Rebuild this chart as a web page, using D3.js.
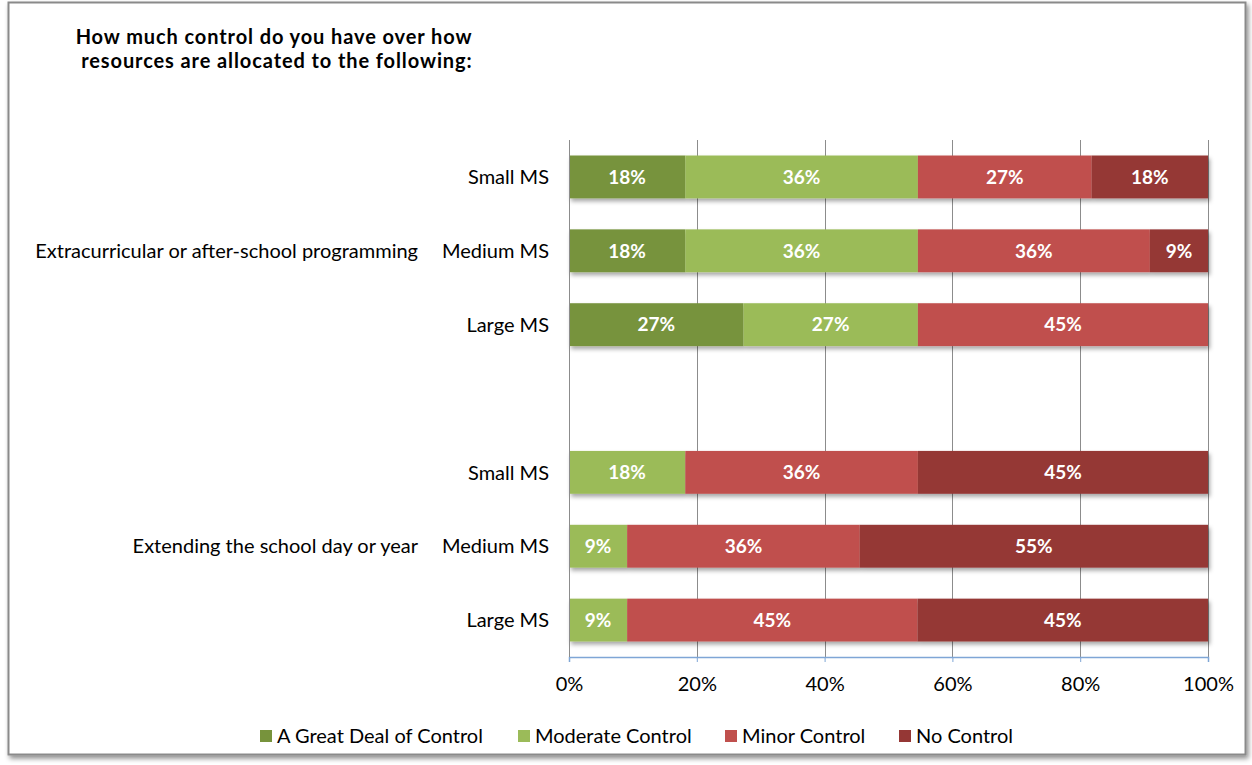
<!DOCTYPE html>
<html>
<head>
<meta charset="utf-8">
<script src="https://cdn.jsdelivr.net/npm/d3@7"></script>
<style>
  html, body { margin: 0; padding: 0; background: #fff; }
  svg { display: block; }
  text { font-family: Lato, "Open Sans", sans-serif; }
</style>
</head>
<body>
<svg id="chart" width="1252" height="765"></svg>
<script>
// ---- Data ----
const groups = ["Extracurricular or after-school programming", "Extending the school day or year"];
const sizes = ["Small MS", "Medium MS", "Large MS"];
const seriesNames = ["A Great Deal of Control", "Moderate Control", "Minor Control", "No Control"];
const seriesColors = ["#77933C", "#9BBB59", "#C0504D", "#953735"];
// percentages per row (group, size), series order as seriesNames
const greatDeal = [18.2, 18.2, 27.3, 0, 0, 0];
const moderate  = [36.4, 36.4, 27.3, 18.2, 9.1, 9.1];
const minor     = [27.2, 36.3, 45.4, 36.4, 36.4, 45.45];
const noControl = [18.2, 9.1, 0, 45.4, 54.5, 45.45];
const xTicks = [0, 20, 40, 60, 80, 100];
const title = ["How much control do you have over how", " resources are allocated to the following:"];

(function () {
const rowKeys = [];
const rows = [];
groups.forEach((g, gi) => {
  sizes.forEach((s, si) => {
    const i = gi * 3 + si;
    const key = gi + "|" + s;
    rowKeys.push(key);
    rows.push({ key, group: g, size: s, values: [greatDeal[i], moderate[i], minor[i], noControl[i]] });
  });
  if (gi === 0) rowKeys.push("gap");
});

const svg = d3.select("#chart");
const FONT = 20;

const defs = svg.append("defs");
const fs = defs.append("filter").attr("id", "frameShadow").attr("x", "-5%").attr("y", "-5%").attr("width", "110%").attr("height", "110%");
fs.append("feDropShadow").attr("dx", 2).attr("dy", 3).attr("stdDeviation", 2.5).attr("flood-color", "#000").attr("flood-opacity", 0.45);
const bs = defs.append("filter").attr("id", "barShadow").attr("x", "-5%").attr("y", "-20%").attr("width", "110%").attr("height", "160%");
bs.append("feDropShadow").attr("dx", 2).attr("dy", 3).attr("stdDeviation", 2).attr("flood-color", "#000").attr("flood-opacity", 0.35);

svg.append("rect").attr("x", 8.5).attr("y", 2.5).attr("width", 1237).attr("height", 752)
  .attr("fill", "#fff").attr("stroke", "#8a8a8a").attr("stroke-width", 2)
  .attr("filter", "url(#frameShadow)");

const pLeft = 569, pRight = 1208, pTop = 140, pBottom = 657;
const x = d3.scaleLinear().domain([0, 100]).range([pLeft, pRight]);
const y = d3.scaleBand().domain(rowKeys).range([pTop, pBottom]).paddingInner(0.42).paddingOuter(0.21);

svg.append("g").selectAll("line").data(xTicks).join("line")
  .attr("x1", d => Math.round(x(d)) + 0.5).attr("x2", d => Math.round(x(d)) + 0.5)
  .attr("y1", pTop).attr("y2", pBottom)
  .attr("stroke", "#8c8c8c").attr("stroke-width", 1);

const stackRows = rows.map(r => {
  let acc = 0;
  return r.values.map((v, i) => { const seg = { row: r, i, v, x0: acc, x1: acc + v }; acc += v; return seg; });
});
const barG = svg.append("g");
stackRows.forEach(segs => {
  const g = barG.append("g").attr("filter", "url(#barShadow)");
  g.selectAll("rect").data(segs.filter(s => s.v > 0)).join("rect")
    .attr("x", d => x(d.x0)).attr("width", d => x(d.x1) - x(d.x0))
    .attr("y", d => y(d.row.key)).attr("height", y.bandwidth())
    .attr("fill", d => seriesColors[d.i]);
});
stackRows.forEach(segs => {
  barG.append("g").selectAll("text").data(segs.filter(s => s.v > 0)).join("text")
    .attr("x", d => (x(d.x0) + x(d.x1)) / 2)
    .attr("y", d => y(d.row.key) + y.bandwidth() / 2)
    .attr("dy", "0.36em").attr("text-anchor", "middle")
    .attr("fill", "#fff").attr("font-weight", "bold").attr("font-size", 19)
    .text(d => Math.round(d.v) + "%");
});

const xAxis = d3.axisBottom(x).tickValues(xTicks).tickSize(5).tickFormat(d => d + "%");
const ax = svg.append("g").attr("transform", `translate(0,${pBottom})`).call(xAxis);
ax.select(".domain").attr("stroke", "#7fa6d6").attr("stroke-width", 1.5);
ax.selectAll(".tick line").attr("stroke", "#7fa6d6");
ax.selectAll(".tick text").attr("font-size", FONT).attr("fill", "#000").attr("dy", "0.71em").attr("y", 20)
  .style("font-family", "Lato, sans-serif");

svg.append("line").attr("x1", pLeft + 0.5).attr("x2", pLeft + 0.5).attr("y1", pTop).attr("y2", pBottom)
  .attr("stroke", "#8c8c8c");

svg.append("g").selectAll("text").data(rows).join("text")
  .attr("x", 549).attr("y", d => y(d.key) + y.bandwidth() / 2).attr("dy", "0.36em")
  .attr("text-anchor", "end").attr("font-size", FONT).attr("fill", "#000")
  .text(d => d.size);

svg.append("g").selectAll("text").data(groups).join("text")
  .attr("x", 418).attr("y", (d, gi) => y(gi + "|Medium MS") + y.bandwidth() / 2).attr("dy", "0.36em")
  .attr("text-anchor", "end").attr("font-size", FONT).attr("fill", "#000")
  .text(d => d);

svg.append("g").selectAll("text").data(title).join("text")
  .attr("x", 274).attr("y", (d, i) => 44 + i * 24)
  .attr("text-anchor", "middle").attr("font-size", 20).attr("font-weight", "bold").attr("fill", "#000")
  .attr("letter-spacing", 0.9)
  .attr("xml:space", "preserve")
  .text(d => d);

const legendX = [260, 518, 725, 899];
const lg = svg.append("g").selectAll("g").data(seriesNames).join("g")
  .attr("transform", (d, i) => `translate(${legendX[i]},736)`);
lg.append("rect").attr("x", 0).attr("y", -6).attr("width", 12).attr("height", 12)
  .attr("fill", (d, i) => seriesColors[i]);
lg.append("text").attr("x", 17).attr("dy", "0.36em").attr("font-size", FONT).attr("fill", "#000")
  .text(d => d);
})();
</script>
</body>
</html>
